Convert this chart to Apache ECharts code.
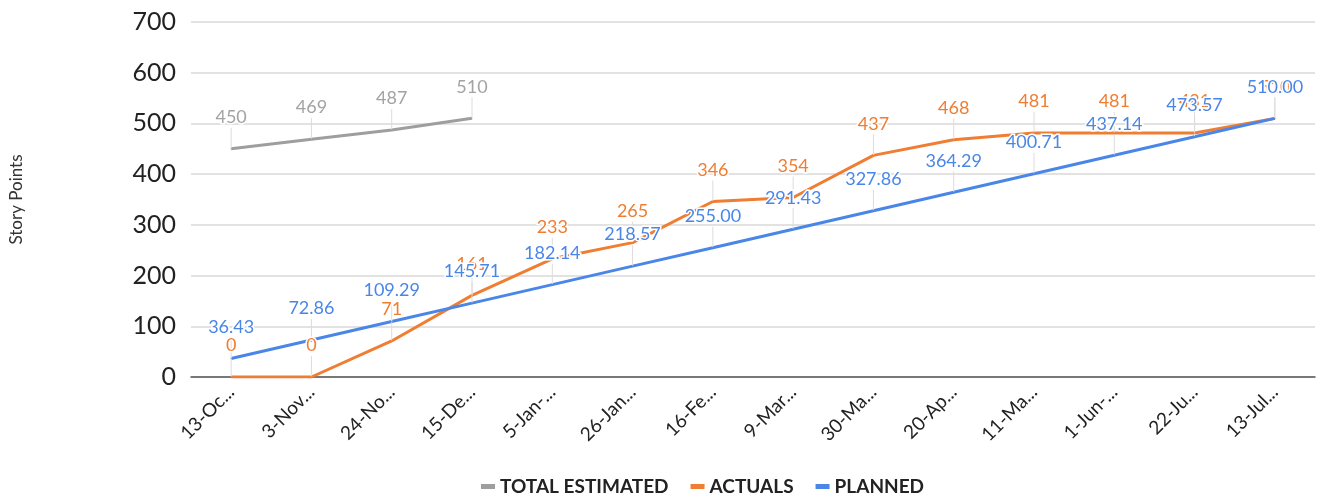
<!DOCTYPE html>
<html><head><meta charset="utf-8">
<script src="https://cdn.jsdelivr.net/npm/echarts@6/dist/echarts.min.js"></script>
<style>html,body{margin:0;padding:0;background:#fff}#c{width:1319px;height:502px}</style>
</head><body><div id="c"></div>
<script>
var categories = ['13-Oc...','3-Nov...','24-No...','15-De...','5-Jan-...','26-Jan...','16-Fe...','9-Mar...','30-Ma...','20-Ap...','11-Ma...','1-Jun-...','22-Ju...','13-Jul...'];
var totalEstimated = [450, 469, 487, 510, null, null, null, null, null, null, null, null, null, null];
var actuals = [0, 0, 71, 161, 233, 265, 346, 354, 437, 468, 481, 481, 481, 510];
var planned = [36.43, 72.86, 109.29, 145.71, 182.14, 218.57, 255.00, 291.43, 327.86, 364.29, 400.71, 437.14, 473.57, 510.00];
var yTicks = {min: 0, max: 700, interval: 100};

var FONT = 'Lato, "Open Sans", sans-serif';
function mkSeries(name, data, lineColor, labelColor, fmt) {
  return {
    name: name, type: 'line', data: data,
    symbol: 'circle', symbolSize: 1,
    itemStyle: {color: lineColor},
    lineStyle: {color: lineColor, width: 3},
    emphasis: {disabled: true},
    label: {
      show: true, position: 'top', distance: 2,
      color: labelColor, fontFamily: FONT, fontSize: 18,
      textBorderColor: '#fff', textBorderWidth: 3,
      formatter: fmt
    },
    labelLayout: {dy: -20},
    labelLine: {show: true, lineStyle: {color: '#dcdcdc', width: 1}}
  };
}
var chart = echarts.init(document.getElementById('c'), null, {renderer: 'canvas'});
chart.setOption({
  animation: false,
  backgroundColor: '#fff',
  grid: {left: 188, right: 4, top: 22, bottom: 125, containLabel: false},
  legend: {
    bottom: 1, left: 476, itemWidth: 14, itemHeight: 5, itemGap: 22,
    icon: 'rect',
    textStyle: {fontFamily: FONT, fontWeight: 'bold', fontSize: 19, color: '#222'},
    data: ['TOTAL ESTIMATED', 'ACTUALS', 'PLANNED']
  },
  xAxis: {
    type: 'category', data: categories, boundaryGap: true,
    axisLine: {lineStyle: {color: '#555', width: 1.5}},
    axisTick: {show: false},
    axisLabel: {rotate: 45, interval: 0, fontFamily: FONT, fontSize: 19, color: '#222', margin: 12}
  },
  yAxis: {
    type: 'value', min: yTicks.min, max: yTicks.max, interval: yTicks.interval,
    name: 'Story Points', nameLocation: 'middle', nameGap: 166,
    nameTextStyle: {fontFamily: FONT, fontSize: 17, color: '#333'},
    axisLine: {show: false}, axisTick: {show: false},
    axisLabel: {fontFamily: FONT, fontSize: 25, color: '#222', margin: 15},
    splitLine: {lineStyle: {color: '#d9d9d9', width: 1.5}}
  },
  series: [
    mkSeries('TOTAL ESTIMATED', totalEstimated, '#9e9e9e', '#a3a3a3', function(p){return p.value;}),
    mkSeries('ACTUALS', actuals, '#ef7d32', '#ef7d32', function(p){return p.value;}),
    mkSeries('PLANNED', planned, '#4a86e8', '#4a86e8', function(p){return p.value.toFixed(2);})
  ]
});
</script></body></html>
